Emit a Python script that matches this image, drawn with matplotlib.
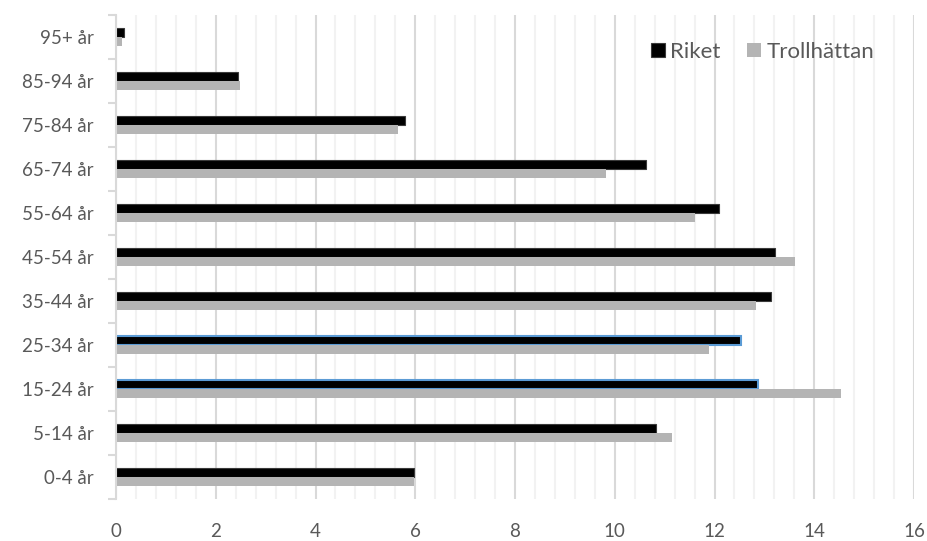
import numpy as np
import matplotlib.pyplot as plt
from matplotlib.ticker import MultipleLocator, FixedLocator, NullFormatter

# Andel av befolkningen per åldersgrupp (%)
age_groups = ['0-4 år', '5-14 år', '15-24 år', '25-34 år', '35-44 år', '45-54 år',
              '55-64 år', '65-74 år', '75-84 år', '85-94 år', '95+ år']
riket = [5.97, 10.83, 12.87, 12.54, 13.13, 13.22, 12.10, 10.63, 5.80, 2.44, 0.16]
trollhattan = [5.97, 11.14, 14.53, 11.89, 12.83, 13.62, 11.61, 9.83, 5.65, 2.48, 0.13]
x_ticks = [0, 2, 4, 6, 8, 10, 12, 14, 16]

text_color = '#595959'
plt.rcParams['font.family'] = ['Lato', 'DejaVu Sans']
fs = 13.5

fig = plt.figure(figsize=(9.27, 5.41), dpi=100)
ax = fig.add_axes([116 / 927, 1 - 499 / 541, 798 / 927, 484 / 541])

y = np.arange(len(age_groups))
h = 0.2
black_bars = ax.barh(y + h / 2, riket, height=h, color='black', edgecolor='#3a3a3a',
                     linewidth=0.8, label='Riket', zorder=3)
ax.barh(y - h / 2, trollhattan, height=h, color='#b4b4b4', linewidth=0,
        label='Trollhättan', zorder=3)

# två staplar är markerade med blå kant
for i in (2, 3):
    black_bars[i].set_edgecolor('#5b9bd5')
    black_bars[i].set_linewidth(1.5)

ax.set_xlim(0, 16)
ax.set_ylim(-0.5, len(age_groups) - 0.5)

ax.set_xticks(x_ticks)
ax.set_xticklabels([str(t) for t in x_ticks])
ax.xaxis.set_minor_locator(MultipleLocator(0.4))
ax.grid(axis='x', which='major', color='#d9d9d9', linewidth=1.5, zorder=1)
ax.grid(axis='x', which='minor', color='#f2f2f2', linewidth=1.5, zorder=0)
ax.tick_params(axis='x', which='both', length=0, pad=17, labelsize=fs,
               labelcolor=text_color)

# kategorietiketter mitt i gruppen, streck mellan grupperna
ax.yaxis.set_major_locator(FixedLocator(np.arange(-0.5, len(age_groups), 1)))
ax.yaxis.set_major_formatter(NullFormatter())
ax.yaxis.set_minor_locator(FixedLocator(y))
ax.set_yticklabels(age_groups, minor=True)
ax.tick_params(axis='y', which='major', length=6, width=1.5, color='#d9d9d9')
ax.tick_params(axis='y', which='minor', length=0, pad=16, labelsize=fs,
               labelcolor=text_color)

for side in ('top', 'right', 'bottom'):
    ax.spines[side].set_visible(False)
ax.spines['left'].set_color('#d9d9d9')
ax.spines['left'].set_linewidth(1.5)
ax.spines['left'].set_zorder(4)

leg = ax.legend(loc='upper right', bbox_to_anchor=(0.975, 0.985), ncol=2, frameon=False,
                fontsize=16, handlelength=0.6, handleheight=0.6, handletextpad=0.25,
                columnspacing=1.2)
for t in leg.get_texts():
    t.set_color(text_color)

fig.savefig('out.png', dpi=100)
